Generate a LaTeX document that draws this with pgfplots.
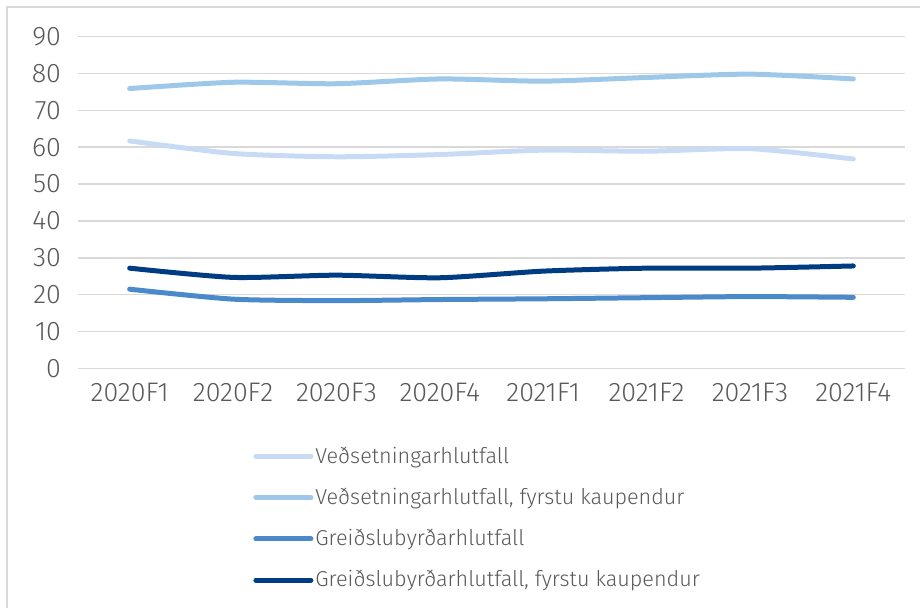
\documentclass[border=0pt]{standalone}
\usepackage{pgfplots}
\pgfplotsset{compat=1.18}
\usepackage{fontspec}
\setmainfont{Fira Sans}[UprightFont={* Light}]
\definecolor{c1}{HTML}{C7DCF4}
\definecolor{c2}{HTML}{9DC8EA}
\definecolor{c3}{HTML}{4A8ACB}
\definecolor{c4}{HTML}{003C82}
\definecolor{tx}{HTML}{595959}
\definecolor{gr}{HTML}{D9D9D9}
\begin{document}
\begin{tikzpicture}[x=1pt,y=1pt]
\useasboundingbox (0,0) rectangle (460,303.5);
\draw[gr, line width=0.8pt] (3.5,-5) -- (3.5,300) -- (470,300);
\begin{axis}[
  at={(39pt,119.25pt)}, anchor=south west,
  scale only axis, width=413.5pt, height=166pt,
  xmin=-0.5, xmax=7.5, ymin=0, ymax=90,
  xtick={0,...,7},
  xticklabels={2020F1,2020F2,2020F3,2020F4,2021F1,2021F2,2021F3,2021F4},
  ytick={0,10,...,90},
  axis line style={draw=none},
  major tick length=0pt,
  ymajorgrids, grid style={gr, line width=0.75pt},
  tick label style={font=\fontsize{13.4}{15}\selectfont, text=tx},
  /pgf/number format/assume math mode=true,
  yticklabel style={xshift=-5pt},
  xticklabel style={yshift=-4pt},
  legend style={draw=none, fill=none, at={(0.2116,-0.228)}, anchor=north west,
    font=\fontsize{10.8}{13}\selectfont, text=tx, row sep=8.9pt, inner sep=0pt,
    nodes={inner sep=1pt}},
  legend cell align=left,
  legend image code/.code={\draw[#1, line cap=round] (0pt,0pt) -- (27.5pt,0pt);},
  every axis plot/.append style={line width=2.5pt, line cap=round, line join=round, smooth, tension=0.4, mark=none},
  clip=false,
]
\addplot[c1] coordinates {(0,61.7) (1,58.3) (2,57.4) (3,58.0) (4,59.2) (5,58.9) (6,59.6) (7,56.8)};
\addlegendentry{Veðsetningarhlutfall}
\addplot[c2] coordinates {(0,75.9) (1,77.6) (2,77.2) (3,78.5) (4,77.9) (5,78.9) (6,79.8) (7,78.5)};
\addlegendentry{Veðsetningarhlutfall, fyrstu kaupendur}
\addplot[c3] coordinates {(0,21.5) (1,18.8) (2,18.4) (3,18.7) (4,18.9) (5,19.2) (6,19.5) (7,19.3)};
\addlegendentry{Greiðslubyrðarhlutfall}
\addplot[c4] coordinates {(0,27.2) (1,24.7) (2,25.3) (3,24.6) (4,26.4) (5,27.2) (6,27.2) (7,27.8)};
\addlegendentry{Greiðslubyrðarhlutfall, fyrstu kaupendur}
\end{axis}
\end{tikzpicture}
\end{document}
